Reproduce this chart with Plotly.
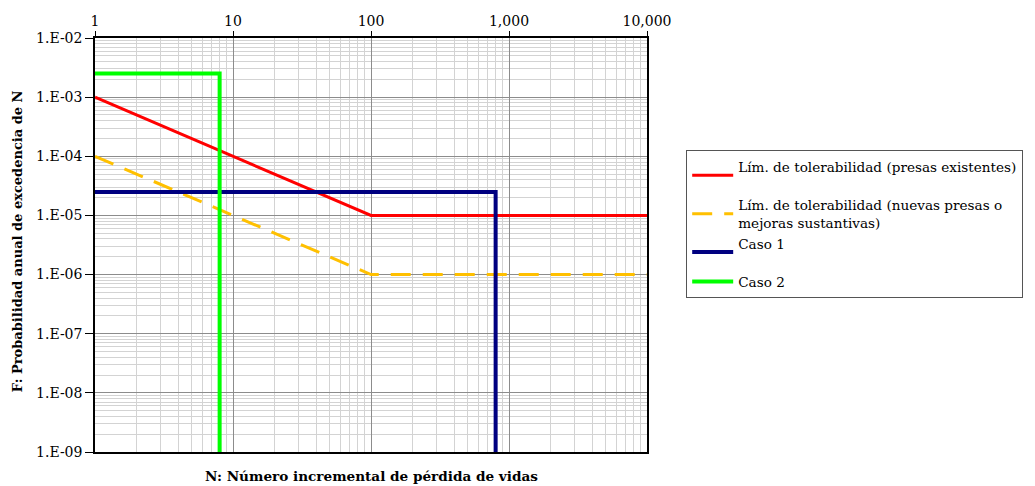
import plotly.graph_objects as go

# Data
n_exist = [1, 100, 10000]
f_exist = [1e-3, 1e-5, 1e-5]
n_new = [1, 100, 10000]
f_new = [1e-4, 1e-6, 1e-6]
n_caso1 = [1, 800, 800]
f_caso1 = [2.5e-5, 2.5e-5, 1e-9]
n_caso2 = [1, 8, 8]
f_caso2 = [2.5e-3, 2.5e-3, 1e-9]

x_tickvals = [1, 10, 100, 1000, 10000]
x_ticktext = ["1", "10", "100", "1,000", "10,000"]
y_tickvals = [1e-2, 1e-3, 1e-4, 1e-5, 1e-6, 1e-7, 1e-8, 1e-9]
y_ticktext = ["1.E-02", "1.E-03", "1.E-04", "1.E-05", "1.E-06", "1.E-07", "1.E-08", "1.E-09"]

FONT = "DejaVu Serif"

fig = go.Figure()
fig.add_trace(go.Scatter(x=n_exist, y=f_exist, mode="lines",
                         name="Lím. de tolerabilidad (presas existentes)<br> ",
                         line=dict(color="#ff0000", width=3)))
fig.add_trace(go.Scatter(x=n_new, y=f_new, mode="lines",
                         name="Lím. de tolerabilidad (nuevas presas o<br>mejoras sustantivas)",
                         line=dict(color="#ffc000", width=3, dash="20px,12px")))
fig.add_trace(go.Scatter(x=n_caso1, y=f_caso1, mode="lines", name="Caso 1<br> ",
                         line=dict(color="#000080", width=4)))
fig.add_trace(go.Scatter(x=n_caso2, y=f_caso2, mode="lines", name="Caso 2",
                         line=dict(color="#00ff00", width=4)))

fig.update_layout(
    width=1027, height=478,
    margin=dict(l=87, r=388, t=30, b=34, autoexpand=False),
    paper_bgcolor="white", plot_bgcolor="white",
    font=dict(family=FONT, size=14, color="black"),
    showlegend=True,
    legend=dict(x=1.071, y=0.729, xanchor="left", yanchor="top",
                bordercolor="#555555", borderwidth=1, bgcolor="white",
                font=dict(family=FONT, size=13.6), tracegroupgap=0,
                itemwidth=41),
    xaxis=dict(type="log", range=[0, 4], side="top", automargin=False,
               tickvals=x_tickvals, ticktext=x_ticktext,
               showline=True, linecolor="black", linewidth=1.5, mirror=True,
               ticks="outside", ticklen=5, tickcolor="black",
               showgrid=True, gridcolor="#8c8c8c", gridwidth=1,
               minor=dict(showgrid=True, gridcolor="#d3d3d3", dtick="D1", ticks=""),
               zeroline=False),
    yaxis=dict(type="log", range=[-9, -2], automargin=False,
               tickvals=y_tickvals, ticktext=y_ticktext,
               showline=True, linecolor="black", linewidth=1.5, mirror=True,
               ticks="outside", ticklen=8, tickcolor="black",
               showgrid=True, gridcolor="#8c8c8c", gridwidth=1,
               minor=dict(showgrid=True, gridcolor="#d3d3d3", dtick="D1", ticks=""),
               zeroline=False),
    annotations=[
        dict(text="<b>N: Número incremental de pérdida de vidas</b>",
             xref="paper", yref="paper", x=0.5, y=-0.058,
             xanchor="center", yanchor="middle", showarrow=False,
             font=dict(family=FONT, size=13.6)),
        dict(text="<b>F: Probabilidad anual de excedencia de N</b>",
             xref="paper", yref="paper", x=-0.139, y=0.51, textangle=-90,
             xanchor="center", yanchor="middle", showarrow=False,
             font=dict(family=FONT, size=13)),
    ],
)

fig.write_html("out.html")
